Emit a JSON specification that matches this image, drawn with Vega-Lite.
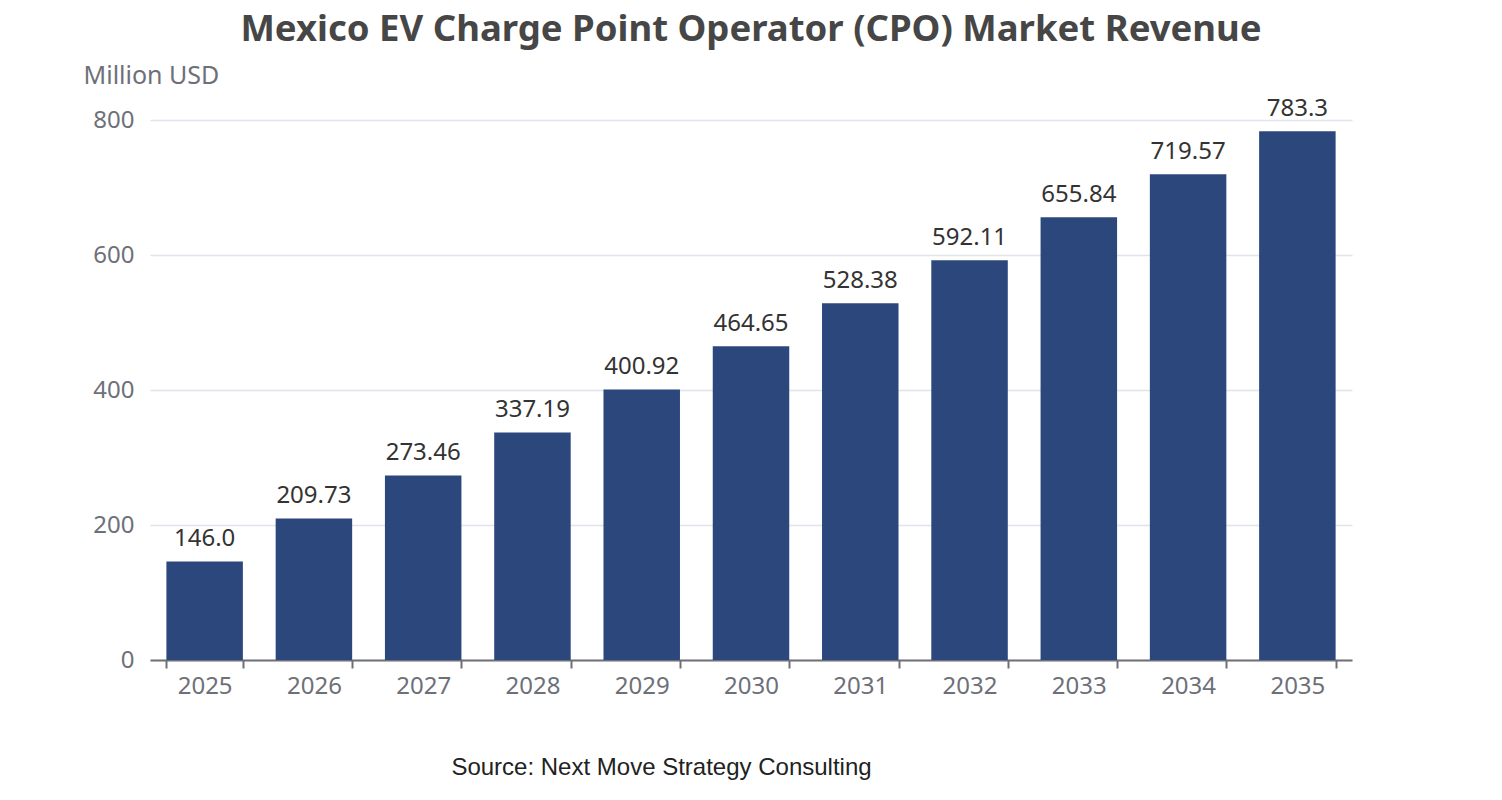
{
  "$schema": "https://vega.github.io/schema/vega-lite/v6.json",
  "width": 1202,
  "height": 540,
  "autosize": "none",
  "padding": {"left": 150, "top": 120, "right": 150, "bottom": 140},
  "background": "#ffffff",
  "title": {
    "text": "Mexico EV Charge Point Operator (CPO) Market Revenue",
    "font": "Noto Sans",
    "fontSize": 36.5,
    "fontWeight": "bold",
    "color": "#464646",
    "anchor": "middle",
    "offset": 15
  },
  "data": {
    "values": [
      {"year": "2025", "revenue": 146.0, "label": "146.0"},
      {"year": "2026", "revenue": 209.73, "label": "209.73"},
      {"year": "2027", "revenue": 273.46, "label": "273.46"},
      {"year": "2028", "revenue": 337.19, "label": "337.19"},
      {"year": "2029", "revenue": 400.92, "label": "400.92"},
      {"year": "2030", "revenue": 464.65, "label": "464.65"},
      {"year": "2031", "revenue": 528.38, "label": "528.38"},
      {"year": "2032", "revenue": 592.11, "label": "592.11"},
      {"year": "2033", "revenue": 655.84, "label": "655.84"},
      {"year": "2034", "revenue": 719.57, "label": "719.57"},
      {"year": "2035", "revenue": 783.3, "label": "783.3"}
    ]
  },
  "encoding": {
    "x": {
      "field": "year",
      "type": "ordinal",
      "scale": {"paddingInner": 0.3, "paddingOuter": 0.15},
      "axis": {
        "title": "Source: Next Move Strategy Consulting",
        "titleFont": "Liberation Sans",
        "titleFontSize": 24,
        "titleFontWeight": "normal",
        "titleColor": "#222222",
        "titleX": 511,
        "titleY": 114,
        "titleAlign": "center",
        "titleBaseline": "alphabetic",
        "labelAngle": 0,
        "labelFont": "Noto Sans",
        "labelFontSize": 24,
        "labelColor": "#6e7079",
        "labelPadding": 6,
        "domainColor": "#6e7079",
        "domainWidth": 2,
        "tickColor": "#6e7079",
        "tickWidth": 2,
        "tickSize": 8,
        "tickBand": "extent",
        "grid": false
      }
    },
    "y": {
      "field": "revenue",
      "type": "quantitative",
      "scale": {"domain": [0, 800]},
      "axis": {
        "title": "Million USD",
        "titleFont": "Noto Sans",
        "titleFontSize": 25,
        "titleFontWeight": "normal",
        "titleColor": "#6e7079",
        "titleAngle": 0,
        "titleX": -67,
        "titleY": -37,
        "titleAlign": "left",
        "titleBaseline": "alphabetic",
        "values": [0, 200, 400, 600, 800],
        "labelFont": "Noto Sans",
        "labelFontSize": 24,
        "labelColor": "#6e7079",
        "labelPadding": 16,
        "domain": false,
        "ticks": false,
        "gridColor": "#e0e3ec",
        "gridWidth": 1.5
      }
    }
  },
  "layer": [
    {
      "mark": {"type": "bar", "color": "#2c477c"}
    },
    {
      "mark": {
        "type": "text",
        "dy": -10,
        "baseline": "bottom",
        "font": "Noto Sans",
        "fontSize": 24,
        "color": "#333333"
      },
      "encoding": {"text": {"field": "label"}}
    }
  ],
  "config": {"view": {"stroke": null}}
}
